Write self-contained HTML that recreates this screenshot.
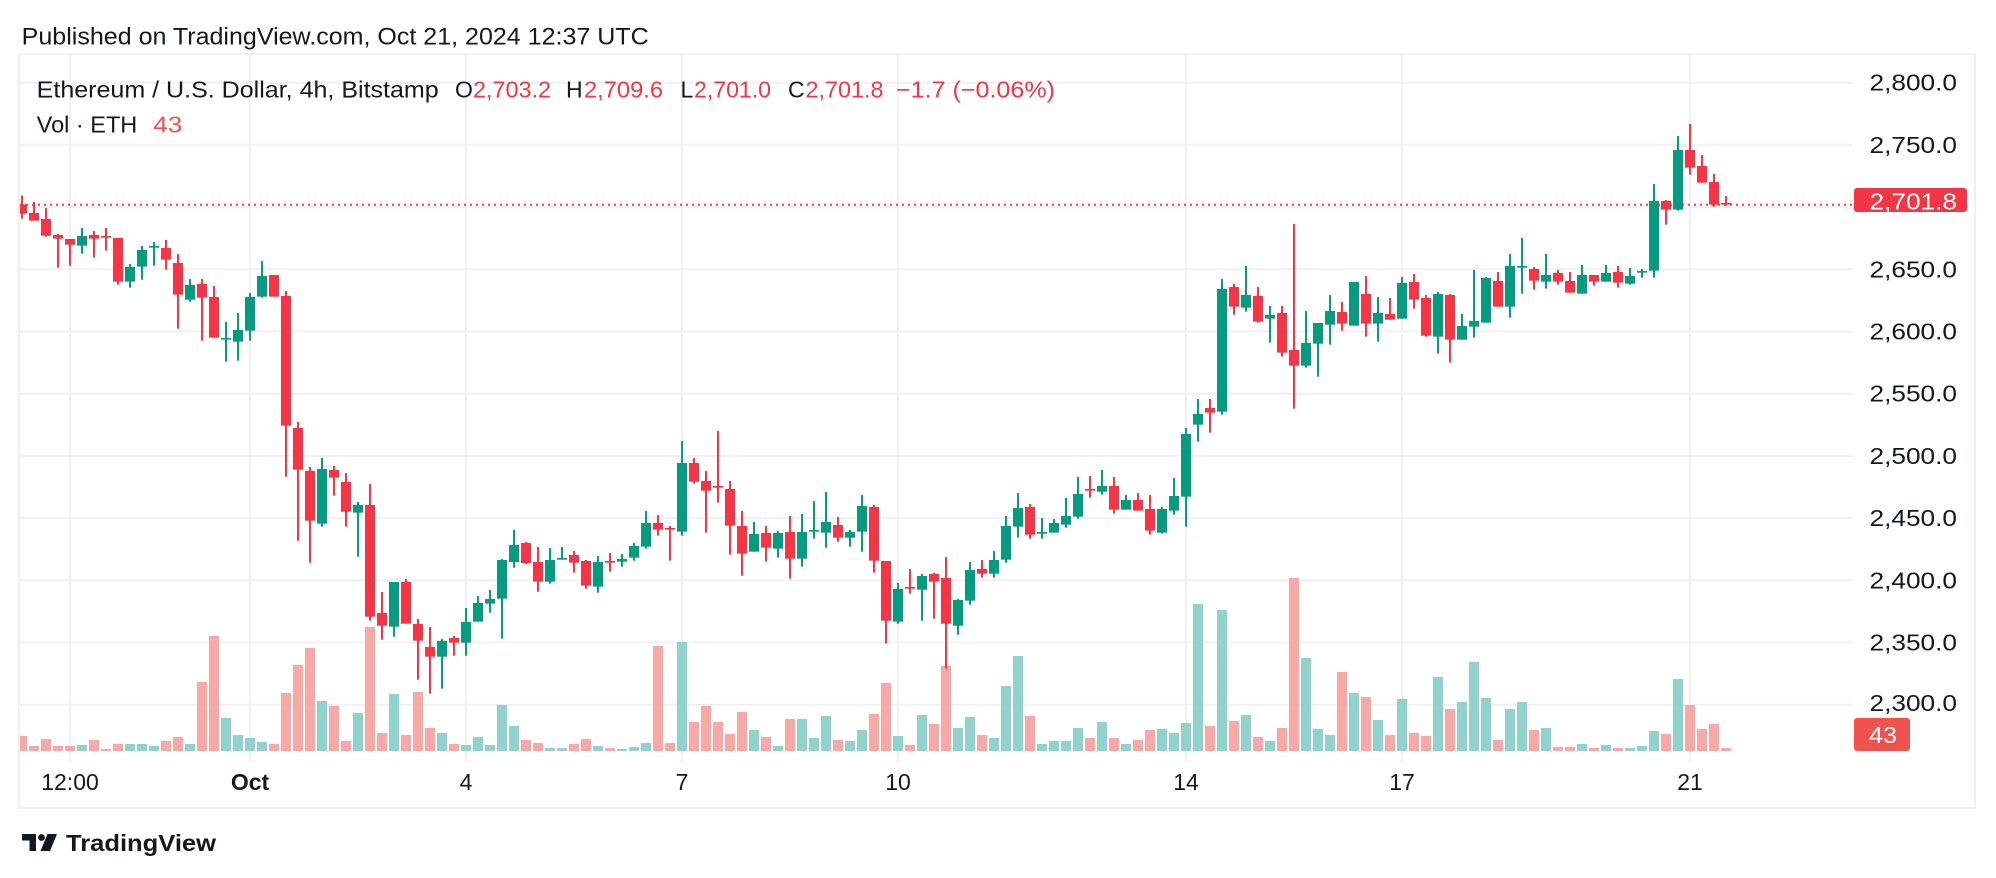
<!DOCTYPE html>
<html><head><meta charset="utf-8">
<style>
html,body{margin:0;padding:0;background:#fff;}
svg{display:block}
text{font-family:"Liberation Sans",Arial,sans-serif;fill:#131722}
.r{fill:#f23645}.g{fill:#089981}.vr{fill:#f7a9a7}.vg{fill:#92d2cc}
.red{fill:#f23645}
.gl{stroke:#f0f0f3;stroke-width:2}
</style></head>
<body>
<svg width="1996" height="878" viewBox="0 0 1996 878" xmlns="http://www.w3.org/2000/svg">
<rect x="0" y="0" width="1996" height="878" fill="#fff"/>
<defs><clipPath id="c"><rect x="20" y="55" width="1832" height="707"/></clipPath></defs>

<!-- header -->
<text x="21.7" y="44.3" font-size="24.5" textLength="627" lengthAdjust="spacingAndGlyphs">Published on TradingView.com, Oct 21, 2024 12:37 UTC</text>

<!-- frame -->
<rect x="19" y="54" width="1956" height="754" fill="none" stroke="#f0f0f3" stroke-width="2"/>

<!-- horizontal gridlines -->
<g class="gl">
<line x1="20" x2="1852" y1="82.7" y2="82.7"/>
<line x1="20" x2="1852" y1="144.9" y2="144.9"/>
<line x1="20" x2="1852" y1="207.1" y2="207.1"/>
<line x1="20" x2="1852" y1="269.3" y2="269.3"/>
<line x1="20" x2="1852" y1="331.5" y2="331.5"/>
<line x1="20" x2="1852" y1="393.7" y2="393.7"/>
<line x1="20" x2="1852" y1="455.9" y2="455.9"/>
<line x1="20" x2="1852" y1="518.1" y2="518.1"/>
<line x1="20" x2="1852" y1="580.3" y2="580.3"/>
<line x1="20" x2="1852" y1="642.5" y2="642.5"/>
<line x1="20" x2="1852" y1="704.7" y2="704.7"/>
<!-- vertical gridlines -->
<line x1="70" x2="70" y1="55" y2="762"/>
<line x1="250" x2="250" y1="55" y2="762"/>
<line x1="466" x2="466" y1="55" y2="762"/>
<line x1="682" x2="682" y1="55" y2="762"/>
<line x1="898" x2="898" y1="55" y2="762"/>
<line x1="1186" x2="1186" y1="55" y2="762"/>
<line x1="1402" x2="1402" y1="55" y2="762"/>
<line x1="1690" x2="1690" y1="55" y2="762"/>
</g>

<g clip-path="url(#c)">
<!-- volume -->
<g transform="translate(0,570) scale(1,0.333333)">
<rect class="vr" x="17" y="498" width="10" height="45"/>
<rect class="vr" x="29" y="528" width="10" height="15"/>
<rect class="vr" x="41" y="507" width="10" height="36"/>
<rect class="vr" x="53" y="528" width="10" height="15"/>
<rect class="vr" x="65" y="528" width="10" height="15"/>
<rect class="vg" x="77" y="525" width="10" height="18"/>
<rect class="vr" x="89" y="510" width="10" height="33"/>
<rect class="vr" x="101" y="537" width="10" height="6"/>
<rect class="vr" x="113" y="522" width="10" height="21"/>
<rect class="vg" x="125" y="522" width="10" height="21"/>
<rect class="vg" x="137" y="522" width="10" height="21"/>
<rect class="vg" x="149" y="528" width="10" height="15"/>
<rect class="vr" x="161" y="513" width="10" height="30"/>
<rect class="vr" x="173" y="501" width="10" height="42"/>
<rect class="vg" x="185" y="522" width="10" height="21"/>
<rect class="vr" x="197" y="336" width="10" height="207"/>
<rect class="vr" x="209" y="198" width="10" height="345"/>
<rect class="vg" x="221" y="444" width="10" height="99"/>
<rect class="vg" x="233" y="495" width="10" height="48"/>
<rect class="vg" x="245" y="504" width="10" height="39"/>
<rect class="vg" x="257" y="516" width="10" height="27"/>
<rect class="vr" x="269" y="522" width="10" height="21"/>
<rect class="vr" x="281" y="369" width="10" height="174"/>
<rect class="vr" x="293" y="285" width="10" height="258"/>
<rect class="vr" x="305" y="234" width="10" height="309"/>
<rect class="vg" x="317" y="393" width="10" height="150"/>
<rect class="vr" x="329" y="408" width="10" height="135"/>
<rect class="vr" x="341" y="513" width="10" height="30"/>
<rect class="vg" x="353" y="429" width="10" height="114"/>
<rect class="vr" x="365" y="171" width="10" height="372"/>
<rect class="vr" x="377" y="489" width="10" height="54"/>
<rect class="vg" x="389" y="372" width="10" height="171"/>
<rect class="vr" x="401" y="495" width="10" height="48"/>
<rect class="vr" x="413" y="366" width="10" height="177"/>
<rect class="vr" x="425" y="474" width="10" height="69"/>
<rect class="vg" x="437" y="489" width="10" height="54"/>
<rect class="vr" x="449" y="522" width="10" height="21"/>
<rect class="vg" x="461" y="525" width="10" height="18"/>
<rect class="vg" x="473" y="501" width="10" height="42"/>
<rect class="vg" x="485" y="525" width="10" height="18"/>
<rect class="vg" x="497" y="405" width="10" height="138"/>
<rect class="vg" x="509" y="468" width="10" height="75"/>
<rect class="vr" x="521" y="510" width="10" height="33"/>
<rect class="vr" x="533" y="519" width="10" height="24"/>
<rect class="vg" x="545" y="534" width="10" height="9"/>
<rect class="vg" x="557" y="534" width="10" height="9"/>
<rect class="vr" x="569" y="522" width="10" height="21"/>
<rect class="vr" x="581" y="507" width="10" height="36"/>
<rect class="vg" x="593" y="528" width="10" height="15"/>
<rect class="vr" x="605" y="534" width="10" height="9"/>
<rect class="vg" x="617" y="537" width="10" height="6"/>
<rect class="vg" x="629" y="531" width="10" height="12"/>
<rect class="vg" x="641" y="519" width="10" height="24"/>
<rect class="vr" x="653" y="228" width="10" height="315"/>
<rect class="vr" x="665" y="519" width="10" height="24"/>
<rect class="vg" x="677" y="216" width="10" height="327"/>
<rect class="vr" x="689" y="456" width="10" height="87"/>
<rect class="vr" x="701" y="408" width="10" height="135"/>
<rect class="vr" x="713" y="456" width="10" height="87"/>
<rect class="vr" x="725" y="492" width="10" height="51"/>
<rect class="vr" x="737" y="426" width="10" height="117"/>
<rect class="vg" x="749" y="480" width="10" height="63"/>
<rect class="vr" x="761" y="501" width="10" height="42"/>
<rect class="vg" x="773" y="528" width="10" height="15"/>
<rect class="vr" x="785" y="447" width="10" height="96"/>
<rect class="vg" x="797" y="447" width="10" height="96"/>
<rect class="vg" x="809" y="504" width="10" height="39"/>
<rect class="vg" x="821" y="438" width="10" height="105"/>
<rect class="vr" x="833" y="510" width="10" height="33"/>
<rect class="vg" x="845" y="513" width="10" height="30"/>
<rect class="vg" x="857" y="480" width="10" height="63"/>
<rect class="vr" x="869" y="432" width="10" height="111"/>
<rect class="vr" x="881" y="339" width="10" height="204"/>
<rect class="vg" x="893" y="498" width="10" height="45"/>
<rect class="vr" x="905" y="525" width="10" height="18"/>
<rect class="vg" x="917" y="435" width="10" height="108"/>
<rect class="vr" x="929" y="462" width="10" height="81"/>
<rect class="vr" x="941" y="288" width="10" height="255"/>
<rect class="vg" x="953" y="474" width="10" height="69"/>
<rect class="vg" x="965" y="441" width="10" height="102"/>
<rect class="vr" x="977" y="495" width="10" height="48"/>
<rect class="vg" x="989" y="504" width="10" height="39"/>
<rect class="vg" x="1001" y="348" width="10" height="195"/>
<rect class="vg" x="1013" y="258" width="10" height="285"/>
<rect class="vr" x="1025" y="438" width="10" height="105"/>
<rect class="vg" x="1037" y="522" width="10" height="21"/>
<rect class="vg" x="1049" y="513" width="10" height="30"/>
<rect class="vg" x="1061" y="513" width="10" height="30"/>
<rect class="vg" x="1073" y="474" width="10" height="69"/>
<rect class="vr" x="1085" y="504" width="10" height="39"/>
<rect class="vg" x="1097" y="456" width="10" height="87"/>
<rect class="vr" x="1109" y="504" width="10" height="39"/>
<rect class="vg" x="1121" y="522" width="10" height="21"/>
<rect class="vr" x="1133" y="510" width="10" height="33"/>
<rect class="vr" x="1145" y="480" width="10" height="63"/>
<rect class="vg" x="1157" y="477" width="10" height="66"/>
<rect class="vg" x="1169" y="489" width="10" height="54"/>
<rect class="vg" x="1181" y="459" width="10" height="84"/>
<rect class="vg" x="1193" y="102" width="10" height="441"/>
<rect class="vr" x="1205" y="468" width="10" height="75"/>
<rect class="vg" x="1217" y="120" width="10" height="423"/>
<rect class="vr" x="1229" y="453" width="10" height="90"/>
<rect class="vg" x="1241" y="435" width="10" height="108"/>
<rect class="vr" x="1253" y="501" width="10" height="42"/>
<rect class="vg" x="1265" y="513" width="10" height="30"/>
<rect class="vr" x="1277" y="474" width="10" height="69"/>
<rect class="vr" x="1289" y="24" width="10" height="519"/>
<rect class="vg" x="1301" y="264" width="10" height="279"/>
<rect class="vg" x="1313" y="477" width="10" height="66"/>
<rect class="vg" x="1325" y="495" width="10" height="48"/>
<rect class="vr" x="1337" y="306" width="10" height="237"/>
<rect class="vg" x="1349" y="369" width="10" height="174"/>
<rect class="vr" x="1361" y="381" width="10" height="162"/>
<rect class="vg" x="1373" y="450" width="10" height="93"/>
<rect class="vr" x="1385" y="495" width="10" height="48"/>
<rect class="vg" x="1397" y="387" width="10" height="156"/>
<rect class="vr" x="1409" y="489" width="10" height="54"/>
<rect class="vr" x="1421" y="498" width="10" height="45"/>
<rect class="vg" x="1433" y="321" width="10" height="222"/>
<rect class="vr" x="1445" y="417" width="10" height="126"/>
<rect class="vg" x="1457" y="396" width="10" height="147"/>
<rect class="vg" x="1469" y="276" width="10" height="267"/>
<rect class="vg" x="1481" y="384" width="10" height="159"/>
<rect class="vr" x="1493" y="510" width="10" height="33"/>
<rect class="vg" x="1505" y="417" width="10" height="126"/>
<rect class="vg" x="1517" y="396" width="10" height="147"/>
<rect class="vr" x="1529" y="480" width="10" height="63"/>
<rect class="vg" x="1541" y="474" width="10" height="69"/>
<rect class="vr" x="1553" y="531" width="10" height="12"/>
<rect class="vr" x="1565" y="531" width="10" height="12"/>
<rect class="vg" x="1577" y="522" width="10" height="21"/>
<rect class="vr" x="1589" y="534" width="10" height="9"/>
<rect class="vg" x="1601" y="525" width="10" height="18"/>
<rect class="vr" x="1613" y="534" width="10" height="9"/>
<rect class="vg" x="1625" y="534" width="10" height="9"/>
<rect class="vg" x="1637" y="528" width="10" height="15"/>
<rect class="vg" x="1649" y="483" width="10" height="60"/>
<rect class="vr" x="1661" y="492" width="10" height="51"/>
<rect class="vg" x="1673" y="327" width="10" height="216"/>
<rect class="vr" x="1685" y="405" width="10" height="138"/>
<rect class="vr" x="1697" y="477" width="10" height="66"/>
<rect class="vr" x="1709" y="462" width="10" height="81"/>
<rect class="vr" x="1721" y="534" width="10" height="9"/>
</g>

<!-- price line -->
<line x1="20" x2="1852" y1="204.7" y2="204.7" stroke="#f23645" stroke-width="2" stroke-dasharray="2 4"/>

<!-- candles k0-39 -->
<g transform="translate(0,180) scale(1,0.333333)">
<rect class="r" x="21" y="47" width="2" height="69"/><rect class="r" x="17" y="73" width="10" height="28"/>
<rect class="r" x="33" y="66" width="2" height="56"/><rect class="r" x="29" y="99" width="10" height="23"/>
<rect class="r" x="45" y="84" width="2" height="86"/><rect class="r" x="41" y="117" width="10" height="50"/>
<rect class="r" x="57" y="162" width="2" height="101"/><rect class="r" x="53" y="165" width="10" height="11"/>
<rect class="r" x="69" y="177" width="2" height="80"/><rect class="r" x="65" y="177" width="10" height="17"/>
<rect class="g" x="81" y="144" width="2" height="77"/><rect class="g" x="77" y="168" width="10" height="29"/>
<rect class="r" x="93" y="153" width="2" height="80"/><rect class="r" x="89" y="165" width="10" height="11"/>
<rect class="r" x="105" y="144" width="2" height="68"/><rect class="r" x="101" y="168" width="10" height="5"/>
<rect class="r" x="117" y="174" width="2" height="140"/><rect class="r" x="113" y="174" width="10" height="131"/>
<rect class="g" x="129" y="252" width="2" height="71"/><rect class="g" x="125" y="261" width="10" height="44"/>
<rect class="g" x="141" y="198" width="2" height="101"/><rect class="g" x="137" y="210" width="10" height="50"/>
<rect class="g" x="153" y="186" width="2" height="71"/><rect class="g" x="149" y="198" width="10" height="5"/>
<rect class="r" x="165" y="180" width="2" height="89"/><rect class="r" x="161" y="204" width="10" height="35"/>
<rect class="r" x="177" y="222" width="2" height="224"/><rect class="r" x="173" y="249" width="10" height="95"/>
<rect class="g" x="189" y="297" width="2" height="68"/><rect class="g" x="185" y="315" width="10" height="44"/>
<rect class="r" x="201" y="297" width="2" height="185"/><rect class="r" x="197" y="312" width="10" height="41"/>
<rect class="r" x="213" y="318" width="2" height="155"/><rect class="r" x="209" y="351" width="10" height="122"/>
<rect class="g" x="225" y="426" width="2" height="119"/><rect class="g" x="221" y="474" width="10" height="5"/>
<rect class="g" x="237" y="399" width="2" height="143"/><rect class="g" x="233" y="450" width="10" height="35"/>
<rect class="g" x="249" y="339" width="2" height="143"/><rect class="g" x="245" y="351" width="10" height="101"/>
<rect class="g" x="261" y="243" width="2" height="110"/><rect class="g" x="257" y="288" width="10" height="62"/>
<rect class="r" x="273" y="285" width="2" height="65"/><rect class="r" x="269" y="285" width="10" height="65"/>
<rect class="r" x="285" y="333" width="2" height="557"/><rect class="r" x="281" y="348" width="10" height="389"/>
<rect class="r" x="297" y="726" width="2" height="356"/><rect class="r" x="293" y="744" width="10" height="125"/>
<rect class="r" x="309" y="861" width="2" height="287"/><rect class="r" x="305" y="873" width="10" height="149"/>
<rect class="g" x="321" y="834" width="2" height="206"/><rect class="g" x="317" y="867" width="10" height="164"/>
<rect class="r" x="333" y="858" width="2" height="89"/><rect class="r" x="329" y="870" width="10" height="23"/>
<rect class="r" x="345" y="879" width="2" height="161"/><rect class="r" x="341" y="906" width="10" height="89"/>
<rect class="g" x="357" y="966" width="2" height="164"/><rect class="g" x="353" y="975" width="10" height="23"/>
<rect class="r" x="369" y="912" width="2" height="410"/><rect class="r" x="365" y="975" width="10" height="335"/>
<rect class="r" x="381" y="1236" width="2" height="143"/><rect class="r" x="377" y="1299" width="10" height="38"/>
<rect class="g" x="393" y="1206" width="2" height="164"/><rect class="g" x="389" y="1206" width="10" height="134"/>
<rect class="r" x="405" y="1197" width="2" height="134"/><rect class="r" x="401" y="1206" width="10" height="125"/>
<rect class="r" x="417" y="1317" width="2" height="182"/><rect class="r" x="413" y="1332" width="10" height="50"/>
<rect class="r" x="429" y="1341" width="2" height="200"/><rect class="r" x="425" y="1401" width="10" height="29"/>
<rect class="g" x="441" y="1377" width="2" height="149"/><rect class="g" x="437" y="1383" width="10" height="47"/>
<rect class="r" x="453" y="1368" width="2" height="59"/><rect class="r" x="449" y="1374" width="10" height="14"/>
<rect class="g" x="465" y="1284" width="2" height="143"/><rect class="g" x="461" y="1326" width="10" height="62"/>
<rect class="g" x="477" y="1248" width="2" height="77"/><rect class="g" x="473" y="1269" width="10" height="56"/>
<rect class="g" x="489" y="1230" width="2" height="68"/><rect class="g" x="485" y="1257" width="10" height="14"/>
</g>

<!-- candles k40-81 -->
<g transform="translate(0,410) scale(1,0.333333)">
<rect class="g" x="501" y="447" width="2" height="239"/><rect class="g" x="497" y="450" width="10" height="116"/>
<rect class="g" x="513" y="360" width="2" height="113"/><rect class="g" x="509" y="405" width="10" height="51"/>
<rect class="r" x="525" y="396" width="2" height="66"/><rect class="r" x="521" y="399" width="10" height="60"/>
<rect class="r" x="537" y="411" width="2" height="134"/><rect class="r" x="533" y="456" width="10" height="59"/>
<rect class="g" x="549" y="414" width="2" height="107"/><rect class="g" x="545" y="450" width="10" height="65"/>
<rect class="g" x="561" y="411" width="2" height="38"/><rect class="g" x="557" y="444" width="10" height="5"/>
<rect class="r" x="573" y="423" width="2" height="65"/><rect class="r" x="569" y="435" width="10" height="23"/>
<rect class="r" x="585" y="450" width="2" height="86"/><rect class="r" x="581" y="453" width="10" height="74"/>
<rect class="g" x="597" y="438" width="2" height="110"/><rect class="g" x="593" y="456" width="10" height="74"/>
<rect class="r" x="609" y="429" width="2" height="56"/><rect class="r" x="605" y="453" width="10" height="5"/>
<rect class="g" x="621" y="432" width="2" height="38"/><rect class="g" x="617" y="447" width="10" height="8"/>
<rect class="g" x="633" y="399" width="2" height="53"/><rect class="g" x="629" y="408" width="10" height="35"/>
<rect class="g" x="645" y="303" width="2" height="113"/><rect class="g" x="641" y="339" width="10" height="71"/>
<rect class="r" x="657" y="315" width="2" height="62"/><rect class="r" x="653" y="339" width="10" height="20"/>
<rect class="r" x="669" y="348" width="2" height="104"/><rect class="r" x="665" y="354" width="10" height="5"/>
<rect class="g" x="681" y="93" width="2" height="284"/><rect class="g" x="677" y="159" width="10" height="206"/>
<rect class="r" x="693" y="144" width="2" height="77"/><rect class="r" x="689" y="159" width="10" height="56"/>
<rect class="r" x="705" y="183" width="2" height="185"/><rect class="r" x="701" y="213" width="10" height="29"/>
<rect class="r" x="717" y="63" width="2" height="215"/><rect class="r" x="713" y="228" width="10" height="5"/>
<rect class="r" x="729" y="213" width="2" height="221"/><rect class="r" x="725" y="237" width="10" height="110"/>
<rect class="r" x="741" y="303" width="2" height="194"/><rect class="r" x="737" y="348" width="10" height="83"/>
<rect class="g" x="753" y="336" width="2" height="89"/><rect class="g" x="749" y="372" width="10" height="53"/>
<rect class="r" x="765" y="348" width="2" height="107"/><rect class="r" x="761" y="369" width="10" height="44"/>
<rect class="g" x="777" y="363" width="2" height="80"/><rect class="g" x="773" y="369" width="10" height="47"/>
<rect class="r" x="789" y="318" width="2" height="188"/><rect class="r" x="785" y="366" width="10" height="80"/>
<rect class="g" x="801" y="312" width="2" height="158"/><rect class="g" x="797" y="366" width="10" height="80"/>
<rect class="g" x="813" y="273" width="2" height="113"/><rect class="g" x="809" y="360" width="10" height="5"/>
<rect class="g" x="825" y="246" width="2" height="167"/><rect class="g" x="821" y="336" width="10" height="32"/>
<rect class="r" x="837" y="321" width="2" height="74"/><rect class="r" x="833" y="345" width="10" height="38"/>
<rect class="g" x="849" y="360" width="2" height="50"/><rect class="g" x="845" y="366" width="10" height="17"/>
<rect class="g" x="861" y="255" width="2" height="170"/><rect class="g" x="857" y="288" width="10" height="77"/>
<rect class="r" x="873" y="285" width="2" height="203"/><rect class="r" x="869" y="291" width="10" height="161"/>
<rect class="r" x="885" y="453" width="2" height="248"/><rect class="r" x="881" y="453" width="10" height="179"/>
<rect class="g" x="897" y="519" width="2" height="122"/><rect class="g" x="893" y="537" width="10" height="98"/>
<rect class="r" x="909" y="477" width="2" height="74"/><rect class="r" x="905" y="531" width="10" height="5"/>
<rect class="g" x="921" y="492" width="2" height="140"/><rect class="g" x="917" y="498" width="10" height="41"/>
<rect class="r" x="933" y="489" width="2" height="137"/><rect class="r" x="929" y="492" width="10" height="23"/>
<rect class="r" x="945" y="441" width="2" height="335"/><rect class="r" x="941" y="504" width="10" height="137"/>
<rect class="g" x="957" y="567" width="2" height="107"/><rect class="g" x="953" y="570" width="10" height="77"/>
<rect class="g" x="969" y="456" width="2" height="128"/><rect class="g" x="965" y="480" width="10" height="92"/>
<rect class="r" x="981" y="450" width="2" height="53"/><rect class="r" x="977" y="477" width="10" height="14"/>
<rect class="g" x="993" y="423" width="2" height="80"/><rect class="g" x="989" y="450" width="10" height="41"/>
</g>

<!-- candles k82-122 -->
<g transform="translate(0,200) scale(1,0.333333)">
<rect class="g" x="1005" y="948" width="2" height="140"/><rect class="g" x="1001" y="978" width="10" height="101"/>
<rect class="g" x="1017" y="879" width="2" height="134"/><rect class="g" x="1013" y="924" width="10" height="56"/>
<rect class="r" x="1029" y="912" width="2" height="104"/><rect class="r" x="1025" y="921" width="10" height="83"/>
<rect class="g" x="1041" y="954" width="2" height="62"/><rect class="g" x="1037" y="996" width="10" height="5"/>
<rect class="g" x="1053" y="957" width="2" height="41"/><rect class="g" x="1049" y="969" width="10" height="29"/>
<rect class="g" x="1065" y="894" width="2" height="89"/><rect class="g" x="1061" y="948" width="10" height="26"/>
<rect class="g" x="1077" y="831" width="2" height="125"/><rect class="g" x="1073" y="882" width="10" height="68"/>
<rect class="r" x="1089" y="828" width="2" height="65"/><rect class="r" x="1085" y="867" width="10" height="5"/>
<rect class="g" x="1101" y="810" width="2" height="74"/><rect class="g" x="1097" y="858" width="10" height="17"/>
<rect class="r" x="1113" y="831" width="2" height="110"/><rect class="r" x="1109" y="858" width="10" height="71"/>
<rect class="g" x="1125" y="885" width="2" height="44"/><rect class="g" x="1121" y="900" width="10" height="29"/>
<rect class="r" x="1137" y="879" width="2" height="53"/><rect class="r" x="1133" y="900" width="10" height="32"/>
<rect class="r" x="1149" y="885" width="2" height="119"/><rect class="r" x="1145" y="927" width="10" height="65"/>
<rect class="g" x="1161" y="921" width="2" height="80"/><rect class="g" x="1157" y="927" width="10" height="71"/>
<rect class="g" x="1173" y="834" width="2" height="110"/><rect class="g" x="1169" y="888" width="10" height="44"/>
<rect class="g" x="1185" y="684" width="2" height="296"/><rect class="g" x="1181" y="702" width="10" height="188"/>
<rect class="g" x="1197" y="597" width="2" height="128"/><rect class="g" x="1193" y="642" width="10" height="32"/>
<rect class="r" x="1209" y="597" width="2" height="101"/><rect class="r" x="1205" y="624" width="10" height="14"/>
<rect class="g" x="1221" y="237" width="2" height="407"/><rect class="g" x="1217" y="267" width="10" height="368"/>
<rect class="r" x="1233" y="252" width="2" height="92"/><rect class="r" x="1229" y="261" width="10" height="59"/>
<rect class="g" x="1245" y="198" width="2" height="137"/><rect class="g" x="1241" y="285" width="10" height="38"/>
<rect class="r" x="1257" y="261" width="2" height="107"/><rect class="r" x="1253" y="288" width="10" height="77"/>
<rect class="g" x="1269" y="318" width="2" height="110"/><rect class="g" x="1265" y="345" width="10" height="11"/>
<rect class="r" x="1281" y="318" width="2" height="152"/><rect class="r" x="1277" y="339" width="10" height="119"/>
<rect class="r" x="1293" y="72" width="2" height="554"/><rect class="r" x="1289" y="450" width="10" height="47"/>
<rect class="g" x="1305" y="333" width="2" height="170"/><rect class="g" x="1301" y="429" width="10" height="68"/>
<rect class="g" x="1317" y="369" width="2" height="161"/><rect class="g" x="1313" y="369" width="10" height="62"/>
<rect class="g" x="1329" y="285" width="2" height="149"/><rect class="g" x="1325" y="333" width="10" height="41"/>
<rect class="r" x="1341" y="306" width="2" height="86"/><rect class="r" x="1337" y="336" width="10" height="35"/>
<rect class="g" x="1353" y="246" width="2" height="131"/><rect class="g" x="1349" y="246" width="10" height="131"/>
<rect class="r" x="1365" y="228" width="2" height="182"/><rect class="r" x="1361" y="282" width="10" height="89"/>
<rect class="g" x="1377" y="291" width="2" height="134"/><rect class="g" x="1373" y="339" width="10" height="32"/>
<rect class="r" x="1389" y="294" width="2" height="65"/><rect class="r" x="1385" y="342" width="10" height="17"/>
<rect class="g" x="1401" y="231" width="2" height="125"/><rect class="g" x="1397" y="249" width="10" height="107"/>
<rect class="r" x="1413" y="222" width="2" height="104"/><rect class="r" x="1409" y="246" width="10" height="53"/>
<rect class="r" x="1425" y="285" width="2" height="125"/><rect class="r" x="1421" y="294" width="10" height="113"/>
<rect class="g" x="1437" y="276" width="2" height="185"/><rect class="g" x="1433" y="282" width="10" height="128"/>
<rect class="r" x="1449" y="282" width="2" height="206"/><rect class="r" x="1445" y="285" width="10" height="134"/>
<rect class="g" x="1461" y="342" width="2" height="77"/><rect class="g" x="1457" y="378" width="10" height="41"/>
<rect class="g" x="1473" y="210" width="2" height="203"/><rect class="g" x="1469" y="363" width="10" height="17"/>
<rect class="g" x="1485" y="231" width="2" height="137"/><rect class="g" x="1481" y="234" width="10" height="134"/>
</g>

<!-- candles k123-142 -->
<g transform="translate(0,100) scale(1,0.333333)">
<rect class="r" x="1497" y="516" width="2" height="104"/><rect class="r" x="1493" y="543" width="10" height="77"/>
<rect class="g" x="1509" y="462" width="2" height="191"/><rect class="g" x="1505" y="498" width="10" height="122"/>
<rect class="g" x="1521" y="414" width="2" height="167"/><rect class="g" x="1517" y="498" width="10" height="5"/>
<rect class="r" x="1533" y="501" width="2" height="68"/><rect class="r" x="1529" y="507" width="10" height="35"/>
<rect class="g" x="1545" y="462" width="2" height="104"/><rect class="g" x="1541" y="525" width="10" height="20"/>
<rect class="r" x="1557" y="510" width="2" height="44"/><rect class="r" x="1553" y="519" width="10" height="26"/>
<rect class="r" x="1569" y="516" width="2" height="62"/><rect class="r" x="1565" y="543" width="10" height="35"/>
<rect class="g" x="1581" y="495" width="2" height="86"/><rect class="g" x="1577" y="525" width="10" height="56"/>
<rect class="r" x="1593" y="525" width="2" height="32"/><rect class="r" x="1589" y="525" width="10" height="20"/>
<rect class="g" x="1605" y="495" width="2" height="50"/><rect class="g" x="1601" y="519" width="10" height="26"/>
<rect class="r" x="1617" y="498" width="2" height="65"/><rect class="r" x="1613" y="516" width="10" height="32"/>
<rect class="g" x="1629" y="504" width="2" height="50"/><rect class="g" x="1625" y="528" width="10" height="23"/>
<rect class="g" x="1641" y="507" width="2" height="26"/><rect class="g" x="1637" y="513" width="10" height="5"/>
<rect class="g" x="1653" y="252" width="2" height="281"/><rect class="g" x="1649" y="303" width="10" height="209"/>
<rect class="r" x="1665" y="300" width="2" height="74"/><rect class="r" x="1661" y="303" width="10" height="26"/>
<rect class="g" x="1677" y="108" width="2" height="224"/><rect class="g" x="1673" y="150" width="10" height="179"/>
<rect class="r" x="1689" y="72" width="2" height="152"/><rect class="r" x="1685" y="150" width="10" height="53"/>
<rect class="r" x="1701" y="165" width="2" height="83"/><rect class="r" x="1697" y="198" width="10" height="50"/>
<rect class="r" x="1713" y="222" width="2" height="98"/><rect class="r" x="1709" y="246" width="10" height="68"/>
<rect class="r" x="1725" y="288" width="2" height="29"/><rect class="r" x="1721" y="309" width="10" height="5"/>
</g>
</g>

<!-- legend -->
<text x="36.7" y="97.7" font-size="23" textLength="402" lengthAdjust="spacingAndGlyphs">Ethereum / U.S. Dollar, 4h, Bitstamp</text>
<text x="455" y="97.7" font-size="23">O</text>
<text x="473" y="97.7" font-size="23" class="red" textLength="78" lengthAdjust="spacingAndGlyphs">2,703.2</text>
<text x="566" y="97.7" font-size="23">H</text>
<text x="584" y="97.7" font-size="23" class="red" textLength="79" lengthAdjust="spacingAndGlyphs">2,709.6</text>
<text x="680.5" y="97.7" font-size="23">L</text>
<text x="694" y="97.7" font-size="23" class="red" textLength="77" lengthAdjust="spacingAndGlyphs">2,701.0</text>
<text x="788" y="97.7" font-size="23">C</text>
<text x="805.5" y="97.7" font-size="23" class="red" textLength="78" lengthAdjust="spacingAndGlyphs">2,701.8</text>
<text x="896" y="97.7" font-size="23" class="red" textLength="159" lengthAdjust="spacingAndGlyphs">−1.7 (−0.06%)</text>
<text x="36.7" y="132.3" font-size="23" textLength="100.6" lengthAdjust="spacingAndGlyphs">Vol · ETH</text>
<text x="153.3" y="132.3" font-size="23" style="fill:#ef5350" textLength="29" lengthAdjust="spacingAndGlyphs">43</text>

<!-- price axis labels -->
<g font-size="23">
<text x="1869.5" y="90.7" textLength="87.5" lengthAdjust="spacingAndGlyphs">2,800.0</text>
<text x="1869.5" y="152.9" textLength="87.5" lengthAdjust="spacingAndGlyphs">2,750.0</text>
<text x="1869.5" y="277.3" textLength="87.5" lengthAdjust="spacingAndGlyphs">2,650.0</text>
<text x="1869.5" y="339.5" textLength="87.5" lengthAdjust="spacingAndGlyphs">2,600.0</text>
<text x="1869.5" y="401.7" textLength="87.5" lengthAdjust="spacingAndGlyphs">2,550.0</text>
<text x="1869.5" y="463.9" textLength="87.5" lengthAdjust="spacingAndGlyphs">2,500.0</text>
<text x="1869.5" y="526.1" textLength="87.5" lengthAdjust="spacingAndGlyphs">2,450.0</text>
<text x="1869.5" y="588.3" textLength="87.5" lengthAdjust="spacingAndGlyphs">2,400.0</text>
<text x="1869.5" y="650.5" textLength="87.5" lengthAdjust="spacingAndGlyphs">2,350.0</text>
<text x="1869.5" y="711" textLength="87.5" lengthAdjust="spacingAndGlyphs">2,300.0</text>
</g>
<rect x="1854" y="188" width="113" height="24" rx="3" fill="#f23645"/>
<text x="1869.5" y="209.5" font-size="23" style="fill:#fff" textLength="87.5" lengthAdjust="spacingAndGlyphs">2,701.8</text>
<rect x="1854" y="718" width="56" height="33" rx="3" fill="#ef5350"/>
<text x="1869" y="743" font-size="23" style="fill:#fff" textLength="28" lengthAdjust="spacingAndGlyphs">43</text>

<!-- time axis -->
<g font-size="23" text-anchor="middle">
<text x="70" y="790">12:00</text>
<text x="250" y="790" font-weight="bold">Oct</text>
<text x="466" y="790">4</text>
<text x="682" y="790">7</text>
<text x="898" y="790">10</text>
<text x="1186" y="790">14</text>
<text x="1402" y="790">17</text>
<text x="1690" y="790">21</text>
</g>

<!-- logo -->
<g fill="#131722">
<path d="M22 834 H36 V851 H29.5 V840.5 H22 Z"/>
<circle cx="41.5" cy="837.5" r="3.4"/>
<path d="M47.5 834 H57 L50 851 H40.5 Z"/>
</g>
<text x="66" y="851" font-size="23" font-weight="bold" textLength="150" lengthAdjust="spacingAndGlyphs">TradingView</text>
</svg>
</body></html>
